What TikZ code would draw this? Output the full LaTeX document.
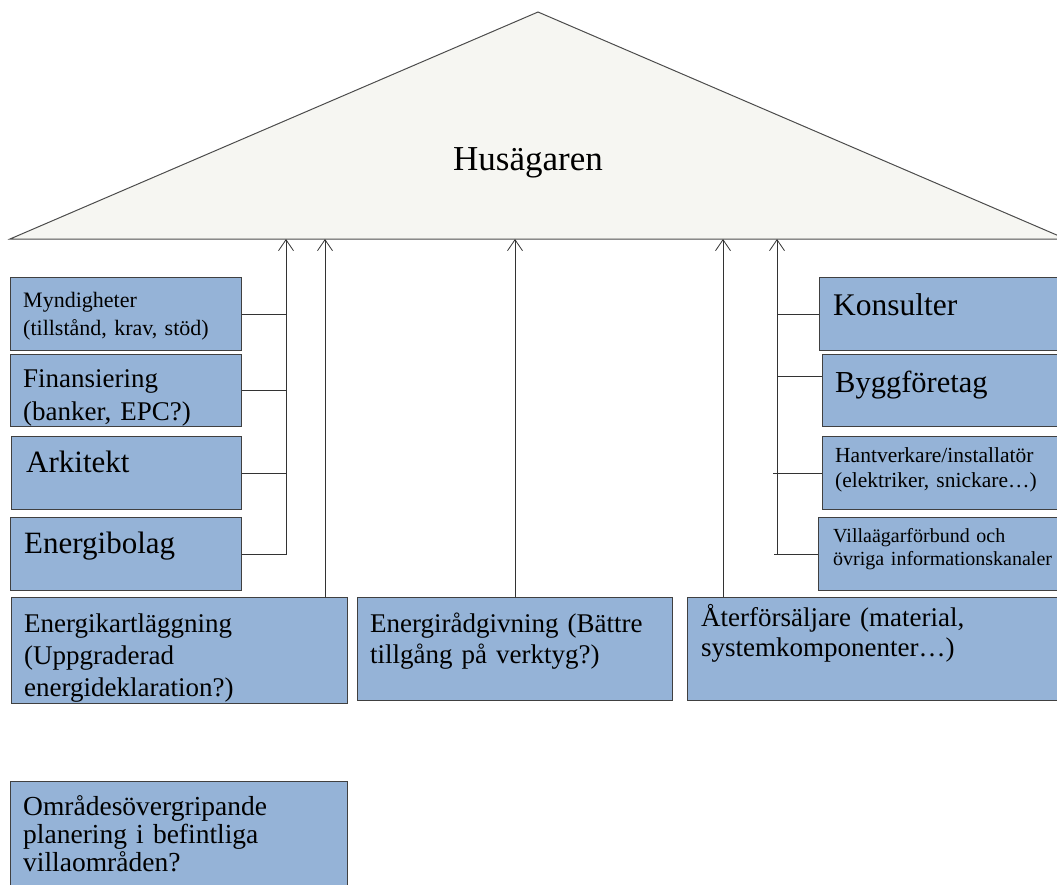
\documentclass[tikz,border=0pt]{standalone}
\usepackage{fontspec}
\setmainfont{Liberation Serif}
\usetikzlibrary{arrows.meta}
\definecolor{boxblue}{HTML}{95B3D7}
\definecolor{roofgrey}{HTML}{F6F6F2}
\newcommand{\fsz}[2]{\fontsize{#1}{#2}\selectfont}
\tikzset{
  box/.style={draw=black!75, fill=boxblue, line width=1pt, anchor=north west, inner sep=0pt},
  txt/.style={anchor=base west, align=left, text width=340pt, inner sep=0pt},
  arr/.style={-{Straight Barb[length=11pt,width=15pt]}, draw=black!80, line width=0.8pt},
  con/.style={draw=black!80, line width=0.8pt}
}
\begin{document}
\begin{tikzpicture}[x=1pt,y=-1pt]
  \useasboundingbox (0,0) rectangle (1057,884);

  % roof
  \draw[fill=roofgrey, draw=black!70, line width=1pt] (10,239) -- (538,12) -- (1066,239) -- cycle;
  \node[anchor=base, inner sep=0pt, font=\fsz{35}{42}] (owner) at (528,170) {Husägaren};

  % left column
  \node[box, minimum width=231, minimum height=73] (mynd) at (10,277) {};
  \node[box, minimum width=231, minimum height=72] (fin) at (10,354) {};
  \node[box, minimum width=230, minimum height=73] (ark) at (11,436) {};
  \node[box, minimum width=231, minimum height=73] (energi) at (10,517) {};
  \node[txt, font=\fsz{22}{28}] (myndtxt) at (23,307) {Myndigheter\\(tillstånd, krav, stöd)};
  \node[txt, font=\fsz{27}{33}] (fintxt) at (23,387) {Finansiering\\(banker, EPC?)};
  \node[txt, font=\fsz{31}{37}] (arktxt) at (26,472) {Arkitekt};
  \node[txt, font=\fsz{31}{37}] (energitxt) at (24,553) {Energibolag};

  % right column
  \node[box, minimum width=250, minimum height=73] (kons) at (819,277) {};
  \node[box, minimum width=250, minimum height=72] (bygg) at (822,354) {};
  \node[box, minimum width=250, minimum height=73] (hant) at (822,436) {};
  \node[box, minimum width=250, minimum height=73] (villa) at (818,517) {};
  \node[txt, font=\fsz{31.5}{37}] (konstxt) at (833,315) {Konsulter};
  \node[txt, font=\fsz{30.5}{37}] (byggtxt) at (835,392) {Byggföretag};
  \node[txt, font=\fsz{21.5}{25}] (hanttxt) at (835,462) {Hantverkare/installatör\\(elektriker, snickare…)};
  \node[txt, font=\fsz{20}{23}] (villatxt) at (833,542) {Villaägarförbund och\\övriga informationskanaler};

  % bottom row
  \node[box, minimum width=336, minimum height=106] (kart) at (11,597) {};
  \node[box, minimum width=315, minimum height=103] (radg) at (357,597) {};
  \node[box, minimum width=380, minimum height=103] (ater) at (687,597) {};
  \node[txt, font=\fsz{27}{32}] (karttxt) at (24,632) {Energikartläggning\\(Uppgraderad\\energideklaration?)};
  \node[txt, font=\fsz{27}{31}] (radgtxt) at (370,632) {Energirådgivning (Bättre\\tillgång på verktyg?)};
  \node[txt, font=\fsz{27}{30}] (atertxt) at (701,626) {Återförsäljare (material,\\systemkomponenter…)};

  \node[box, minimum width=337, minimum height=120] (omr) at (10,781) {};
  \node[txt, font=\fsz{27.5}{28}] (omrtxt) at (23,815) {Områdesövergripande\\planering i befintliga\\villaområden?};

  % arrows up to the eave
  \coordinate (lbus) at (286,239);
  \coordinate (kartup) at (325,239);
  \coordinate (radgup) at (515,239);
  \coordinate (aterup) at (723,239);
  \coordinate (rbus) at (777,239);

  \draw[arr] (energi.east) -| (lbus);
  \draw[con] (mynd.east) -- (mynd.east -| lbus);
  \draw[con] (fin.east) -- (fin.east -| lbus);
  \draw[con] (ark.east) -- (ark.east -| lbus);
  \draw[arr] (kartup |- kart.north) -- (kartup);
  \draw[arr] (radgup |- radg.north) -- (radgup);
  \draw[arr] (aterup |- ater.north) -- (aterup);

  \draw[arr] (villa.west) -| (rbus);
  \draw[con] (kons.west) -- (kons.west -| rbus);
  \draw[con] ([yshift=14]bygg.west) -- ([yshift=14]bygg.west -| rbus);
  \draw[con] (hant.west) -- ([xshift=-4]hant.west -| rbus);
  \draw[con] (villa.west -| rbus) -- ++(-3,0);
\end{tikzpicture}
\end{document}
